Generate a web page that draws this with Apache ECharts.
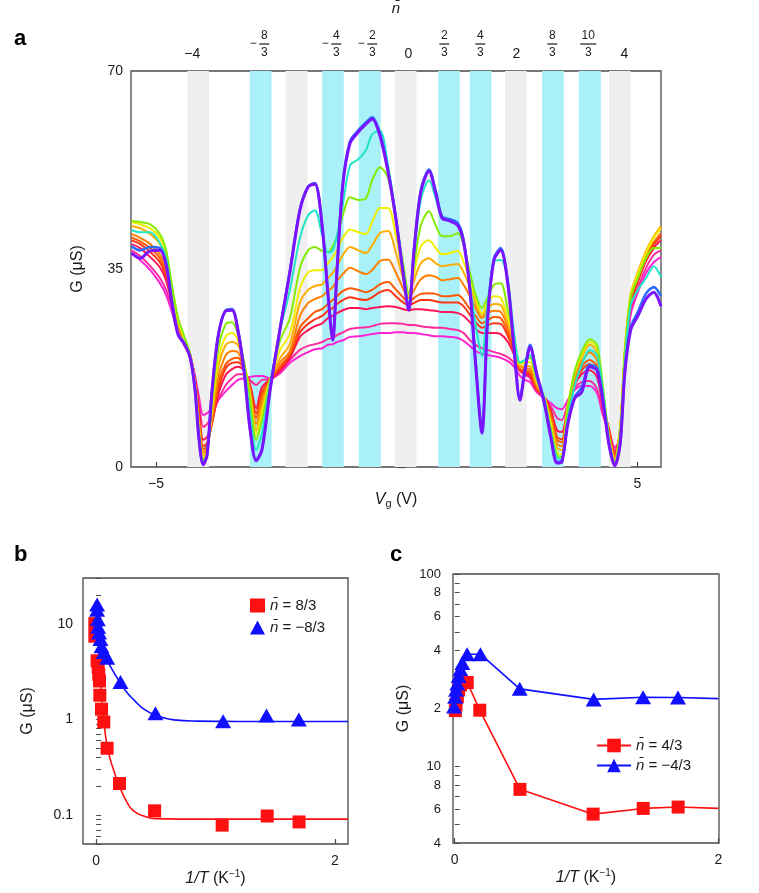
<!DOCTYPE html>
<html><head><meta charset="utf-8">
<script src="https://cdn.jsdelivr.net/npm/echarts@6/dist/echarts.min.js"></script>
<style>html,body{margin:0;padding:0;background:#fff}#c{width:759px;height:893px}</style>
</head><body><div id="c"></div>
<script>
// ---------- Panel a data ----------
const vg = [-5.51,-5.33,-5.12,-4.92,-4.79,-4.67,-4.54,-4.42,-4.29,-4.19,-4.11,-4.02,-3.94,-3.84,-3.71,-3.55,-3.42,-3.30,-3.17,-3.05,-2.92,-2.80,-2.63,-2.42,-2.22,-2.01,-1.84,-1.70,-1.55,-1.43,-1.33,-1.24,-1.12,-0.97,-0.80,-0.64,-0.51,-0.35,-0.18,-0.02,0.13,0.25,0.36,0.50,0.67,0.81,0.94,1.10,1.27,1.39,1.52,1.64,1.77,1.89,2.02,2.16,2.31,2.43,2.56,2.66,2.77,2.91,3.06,3.20,3.33,3.43,3.55,3.70,3.84,4.01,4.16,4.28,4.41,4.53,4.64,4.74,4.86,5.01,5.18,5.34,5.49];
const gMagenta = [37.8,36.6,34.8,32.5,30.4,27.4,23.5,21.6,19.4,16.1,12.5,9.2,9.5,10.4,11.8,13.4,14.5,15.4,15.7,15.9,16.1,16.1,15.7,16.6,18.4,19.6,20.3,20.8,21.0,21.6,21.7,22.1,22.4,23.0,23.1,23.3,23.5,23.7,23.7,23.8,23.8,23.7,23.7,23.5,23.3,23.1,23.1,23.0,22.8,22.3,21.4,20.5,20.0,19.8,19.6,19.3,18.7,17.8,16.1,15.4,15.0,13.2,12.2,11.3,10.4,10.2,11.8,13.6,14.3,14.3,13.1,9.2,6.2,3.5,5.3,18.0,26.9,30.9,34.3,36.2,37.1];
const gPink = [38.3,37.3,35.5,33.4,31.3,28.1,23.8,21.7,19.6,15.7,11.5,7.1,7.6,9.0,11.8,14.5,15.7,16.4,16.4,15.4,14.5,15.4,15.5,16.8,18.9,20.7,21.4,21.7,22.1,22.6,22.8,23.3,23.8,24.4,24.6,24.7,24.9,25.3,25.4,25.4,25.3,25.1,25.1,24.9,24.7,24.6,24.6,24.4,24.2,23.7,22.4,21.6,21.0,20.7,20.3,20.0,19.4,18.5,17.0,16.3,15.7,13.4,12.4,10.8,8.7,8.3,11.1,14.0,15.0,15.2,13.8,9.7,6.5,3.0,5.5,18.5,27.7,31.6,35.2,37.5,38.3];
const gCrimson = [39.4,38.7,37.1,35.3,32.9,29.0,24.2,21.9,19.8,15.4,10.1,4.8,5.3,7.6,12.7,16.3,17.3,17.7,17.0,14.7,10.4,14.1,15.5,17.1,19.3,23.0,24.2,24.9,25.4,26.3,26.7,27.2,27.7,28.1,28.1,27.9,28.1,28.3,28.4,28.3,27.9,27.7,27.9,27.9,27.7,27.6,27.4,27.4,27.2,26.7,25.6,24.4,23.7,23.7,23.7,23.5,22.1,20.0,17.1,16.6,16.1,13.6,12.4,10.1,6.5,6.2,10.4,14.5,16.4,17.1,15.9,11.0,6.7,2.5,5.8,19.3,28.6,32.7,36.4,38.7,40.1];
const gRed = [40.1,39.4,38.0,36.2,33.7,29.5,24.6,22.1,19.8,15.2,9.4,3.7,4.2,7.6,13.6,17.5,18.4,18.5,17.3,14.3,9.5,13.2,15.5,17.5,19.6,23.8,25.3,26.1,26.7,27.6,28.1,28.8,29.5,30.0,29.7,29.5,30.0,30.9,31.3,30.2,29.1,28.6,29.0,29.5,29.5,29.3,29.1,29.1,29.1,28.4,26.9,25.6,24.6,25.1,25.4,25.3,23.1,20.7,17.1,16.8,16.4,13.8,12.4,9.7,5.3,4.9,10.2,15.0,17.1,18.2,17.0,11.5,6.5,2.1,6.2,19.6,29.1,33.0,36.7,39.2,40.8];
const gOrangeRed = [40.6,39.9,38.7,36.9,34.4,29.9,24.7,22.3,19.8,15.0,8.8,3.2,3.7,7.9,14.5,18.2,19.1,19.3,17.5,14.0,8.7,12.7,15.5,17.8,20.0,24.7,26.3,27.4,27.9,28.8,29.5,30.2,31.1,31.6,31.3,30.9,31.3,32.3,32.7,31.4,30.0,29.1,29.9,30.6,30.7,30.6,30.2,30.2,30.4,29.5,27.9,26.7,25.4,26.0,26.5,26.3,23.8,21.0,17.3,17.1,16.8,14.0,12.4,9.2,4.8,4.4,10.4,15.4,17.7,18.9,17.7,11.8,6.2,1.9,6.5,20.0,29.7,33.6,37.3,39.7,41.3];
const gOrange = [41.2,40.5,39.4,37.6,35.2,30.2,25.1,22.4,19.8,14.8,8.3,2.6,3.4,8.3,15.7,19.8,20.5,20.3,17.8,13.6,7.6,11.8,15.5,18.5,20.5,26.7,29.0,29.7,30.2,31.1,31.8,32.9,34.1,35.2,34.6,34.1,34.8,36.4,36.7,34.4,31.6,29.9,31.3,33.2,33.9,33.6,33.0,33.2,33.4,32.2,30.2,28.1,26.3,27.2,27.6,27.4,24.7,21.6,17.7,17.5,17.3,14.3,12.4,8.8,4.1,3.7,10.6,15.7,18.5,20.3,18.9,12.5,5.8,1.6,6.9,20.3,30.2,34.1,37.9,40.6,42.2];
const gAmber = [42.6,42.2,41.2,39.4,36.6,30.9,25.6,22.8,19.8,14.7,7.6,2.1,3.0,9.2,17.5,21.6,22.1,21.6,18.2,13.2,6.5,10.6,15.4,19.3,21.7,29.1,31.3,32.0,32.3,33.4,34.3,35.5,37.5,38.9,38.3,37.8,39.2,41.3,41.7,38.0,33.4,30.4,33.0,36.0,36.9,36.0,35.5,35.7,35.9,34.4,31.8,29.1,26.7,28.1,28.8,28.6,25.6,22.3,17.8,17.8,17.8,14.7,12.4,8.1,3.4,3.0,10.8,16.3,19.3,21.6,20.3,13.2,5.5,1.2,6.9,20.7,30.6,34.5,38.2,40.8,42.6];
const gYellow = [43.3,42.9,42.2,40.5,37.6,31.6,26.0,22.9,19.8,14.5,7.1,1.6,2.6,10.1,18.9,23.1,23.7,22.4,18.4,12.7,5.7,9.5,15.4,20.7,23.5,31.6,34.4,34.8,34.8,36.0,37.1,38.3,40.5,42.0,41.5,41.2,43.3,45.8,45.8,41.0,34.4,30.4,34.4,39.0,40.1,38.7,37.6,37.8,38.2,36.2,33.0,29.9,27.2,29.1,30.2,29.9,26.3,23.0,18.2,18.4,18.5,15.0,12.4,7.6,2.6,2.3,10.4,16.8,19.8,22.1,21.0,13.8,5.1,0.9,6.5,20.7,30.4,34.1,37.8,40.5,42.2];
const gGreen = [43.5,43.3,42.9,41.2,38.3,32.2,26.3,23.3,19.8,14.3,6.5,1.2,2.3,11.0,20.7,25.3,25.6,23.5,18.5,12.2,4.8,8.3,15.2,22.4,26.3,35.2,38.3,38.9,38.2,38.0,39.0,40.8,44.5,47.7,47.2,47.5,50.7,53.0,51.1,43.6,36.2,30.7,35.7,42.7,45.2,42.7,40.8,40.8,41.3,39.2,34.4,30.4,28.1,30.0,32.2,32.5,27.7,23.3,18.4,18.9,19.3,15.4,12.4,6.9,2.1,1.8,10.1,17.1,20.3,22.6,21.6,14.5,5.1,0.7,6.2,20.3,29.9,33.4,36.9,38.7,38.7];
const gTurquoise = [41.9,41.5,41.5,39.6,36.9,29.9,23.7,22.1,19.6,14.0,5.8,0.9,2.1,12.9,23.0,27.6,27.7,24.2,17.5,9.7,3.0,6.0,14.8,24.2,31.3,40.5,44.5,45.4,41.0,37.9,38.3,41.0,46.3,53.3,54.4,56.0,58.8,59.5,53.3,44.5,35.2,29.0,37.5,47.2,50.7,47.5,44.0,43.5,42.7,39.2,32.2,25.1,19.6,29.0,36.2,36.6,33.0,24.2,18.5,18.9,19.8,15.7,12.2,6.2,1.6,1.4,8.3,14.5,18.0,20.7,19.8,13.6,4.8,0.5,4.8,18.5,28.6,31.3,33.4,35.5,33.6];
const gBlue = [39.0,38.3,38.9,38.7,35.9,29.1,23.5,21.9,19.4,13.8,5.3,0.5,2.1,13.2,23.1,27.7,27.9,24.4,17.0,7.1,1.2,3.2,13.8,24.7,34.6,45.6,49.6,50.2,42.7,30.9,22.8,35.2,50.2,57.6,59.5,60.9,61.8,59.0,52.5,44.2,34.6,27.9,38.5,48.9,52.6,48.8,44.3,43.8,43.1,40.1,31.6,18.4,6.5,26.7,36.9,38.7,32.5,21.9,12.2,17.1,21.6,16.6,11.7,5.5,0.9,1.1,7.6,12.5,14.0,18.0,17.5,12.2,4.1,0.4,4.1,17.1,24.7,27.4,30.7,31.8,30.2];
const gPurple = [37.8,36.9,38.2,38.3,35.7,29.0,23.3,21.9,19.3,13.6,5.1,0.4,2.1,13.2,23.1,27.6,27.7,24.2,16.8,6.9,1.1,3.0,13.6,24.6,34.4,45.4,49.5,50.0,42.7,30.7,22.4,34.8,49.8,57.2,59.2,60.6,61.5,58.6,52.1,44.0,34.4,27.7,38.3,48.6,52.3,48.4,44.0,43.5,42.7,39.7,31.3,18.0,6.0,26.3,36.6,38.3,32.2,21.6,11.8,16.8,21.2,16.3,11.5,5.3,0.7,0.9,7.4,12.2,13.2,17.7,17.1,11.8,3.9,0.2,3.9,16.8,24.2,26.7,29.7,30.9,28.4];

// shaded filling bands (Vg ranges)
const grayBands = [[-4.35,-3.90],[-2.31,-1.85],[-0.04,0.41],[2.25,2.70],[4.41,4.86]];
const cyanBands = [[-3.05,-2.60],[-1.55,-1.10],[-0.79,-0.33],[0.86,1.31],[1.52,1.97],[3.02,3.47],[3.78,4.24]];

// top axis (n-bar) ticks and labels
const nbarTicks = [-4,-8/3,-4/3,-2/3,0,2/3,4/3,2,8/3,10/3,4];
const nbarLabels = ['−4','−8/3','−4/3','−2/3','0','2/3','4/3','2','8/3','10/3','4'];
const vgTicks = [-5,5];
const gTicks = [0,35,70];

// ---------- Panel b data ----------
const bRedX = [-0.011,-0.011,0.008,0.017,0.022,0.028,0.031,0.045,0.064,0.092,0.196,0.49,1.056,1.433,1.70];
const bRedY = [10.0,7.4,4.1,3.5,2.96,2.52,1.79,1.28,0.94,0.50,0.214,0.111,0.0787,0.098,0.085];
const bBlueX = [0.008,0.008,0.014,0.017,0.025,0.036,0.045,0.064,0.092,0.204,0.497,1.064,1.427,1.698];
const bBlueY = [15.9,14.0,11.1,9.3,8.1,6.9,5.8,5.06,4.4,2.46,1.16,0.96,1.10,1.0];
const bRedFitX = [0.0,0.008,0.036,0.064,0.092,0.134,0.196,0.26,0.316,0.4,0.5,0.7,1.0,1.5,2.11];
const bRedFitY = [10.5,9.8,2.6,1.0,0.53,0.33,0.2,0.135,0.11,0.098,0.092,0.091,0.091,0.091,0.091];
const bBlueFitX = [0.008,0.036,0.064,0.092,0.148,0.204,0.26,0.316,0.4,0.51,0.65,0.85,1.2,2.11];
const bBlueFitY = [11,7.4,5.4,4.2,3.1,2.4,1.9,1.6,1.28,1.09,0.99,0.96,0.95,0.95];
const bYTicks = [0.05,0.06,0.07,0.08,0.09,0.1,0.2,0.3,0.4,0.5,0.6,0.7,0.8,0.9,1,2,3,4,5,6,7,8,9,10,20,30];
const bYLabels = [0.1,1,10];
const tXTicks = [0,2];

// ---------- Panel c data ----------
const cRedX = [0.005,0.01,0.02,0.03,0.045,0.095,0.19,0.495,1.05,1.43,1.695];
const cRedY = [19.5,21,23,25,26.5,27.3,19.6,7.6,5.65,6.05,6.15];
const cRedEnd = [2.0,6.05];
const cBlueX = [-0.005,0.003,0.01,0.02,0.03,0.043,0.058,0.094,0.195,0.493,1.054,1.429,1.694];
const cBlueY = [20.5,23,25,27,29.5,32,34.5,38.3,38.3,25.3,22.3,22.9,22.8];
const cBlueEnd = [2.0,22.5];
const cYTicks = [4,5,6,7,8,9,10,20,30,40,50,60,70,80,90,100];
const cYLabels = [4,6,8,10,20,40,60,80,100];

// ---------- styles ----------
const curves = [
  {d:gMagenta,c:'#ff22d4',w:2},{d:gPink,c:'#ff2a9e',w:2},{d:gCrimson,c:'#ff1256',w:2},
  {d:gRed,c:'#ff3414',w:2},{d:gOrangeRed,c:'#ff5800',w:2},{d:gOrange,c:'#ff8000',w:2},
  {d:gAmber,c:'#ffad00',w:2},{d:gYellow,c:'#f2ee00',w:2},{d:gGreen,c:'#84ec00',w:2},
  {d:gTurquoise,c:'#1fe6c6',w:2},{d:gBlue,c:'#2a6cff',w:2.6},{d:gPurple,c:'#7a14ff',w:3}
];
const FONT = 'Liberation Sans, Arial, sans-serif';
const TXT = '#1a1a1a';
const FRAME = '#4a4a4a';

function pair(xs, ys){ return xs.map((x,i)=>[x, ys[i]]); }
function nbarFmt(v){
  let best=0; for(let i=1;i<nbarTicks.length;i++){ if(Math.abs(nbarTicks[i]-v)<Math.abs(nbarTicks[best]-v)) best=i; }
  const s = nbarLabels[best];
  if (s.indexOf('/')<0) return '{int|'+s+'}';
  const neg = s[0]==='−'; const t = neg? s.slice(1): s;
  const parts = t.split('/'); const w = parts[0].length>1?'2':'1';
  const nt='{n'+w+'|'+parts[0]+'}', dt='{n'+w+'|'+parts[1]+'}', bt='{b'+w+'|}';
  if (neg) return '{sp|}'+nt+'{sp|}\n{m|−}'+bt+'{sp|}\n{sp|}'+dt+'{sp|}\n{gap|}';
  return nt+'\n'+bt+'\n'+dt+'\n{gap|}';
}
const nameG = {fontFamily:FONT,fontSize:16,color:TXT};
const xNameT = {
  rich:{it:{fontStyle:'italic',fontSize:16,fontFamily:FONT,color:TXT},n:{fontSize:16,fontFamily:FONT,color:TXT},
        sup:{fontSize:10,fontFamily:FONT,color:TXT,verticalAlign:'top',lineHeight:20}}
};

const series = [];
// band holder
series.push({type:'line',xAxisIndex:0,yAxisIndex:0,data:[],silent:true,
  markArea:{silent:true,data:
    grayBands.map(b=>[{xAxis:b[0],itemStyle:{color:'#efefef'}},{xAxis:b[1]}]).concat(
    cyanBands.map(b=>[{xAxis:b[0],itemStyle:{color:'#aaf0f8'}},{xAxis:b[1]}]))}});
curves.forEach((cv,i)=>{
  series.push({type:'line',xAxisIndex:0,yAxisIndex:0,name:'curve'+i,data:pair(vg,cv.d),
    showSymbol:false,symbol:'none',smooth:0.3,silent:true,z:2+i*0.01,
    lineStyle:{color:cv.c,width:cv.w}});
});
// panel b
series.push({type:'line',name:'fitR',xAxisIndex:2,yAxisIndex:1,data:pair(bRedFitX,bRedFitY),showSymbol:false,symbol:'none',smooth:0.5,lineStyle:{color:'#ff1010',width:1.6},z:3});
series.push({type:'line',name:'fitB',xAxisIndex:2,yAxisIndex:1,data:pair(bBlueFitX,bBlueFitY),showSymbol:false,symbol:'none',smooth:0.5,lineStyle:{color:'#1010ff',width:1.6},z:3});
series.push({type:'scatter',name:'n̄ = 8/3',xAxisIndex:2,yAxisIndex:1,data:pair(bRedX,bRedY),symbol:'rect',symbolSize:13,itemStyle:{color:'#ff1010',opacity:1},z:4});
series.push({type:'scatter',name:'n̄ = −8/3',xAxisIndex:2,yAxisIndex:1,data:pair(bBlueX,bBlueY),symbol:'triangle',symbolSize:[16,14],itemStyle:{color:'#1010ff',opacity:1},z:5});
// panel c
series.push({type:'line',name:'n̄ = 4/3',xAxisIndex:3,yAxisIndex:2,
  data:pair(cRedX,cRedY).concat([{value:cRedEnd,symbol:'none'}]),symbol:'rect',symbolSize:13,showSymbol:true,
  lineStyle:{color:'#ff1010',width:1.6},itemStyle:{color:'#ff1010'},z:4});
series.push({type:'line',name:'n̄ = −4/3',xAxisIndex:3,yAxisIndex:2,
  data:pair(cBlueX,cBlueY).concat([{value:cBlueEnd,symbol:'none'}]),symbol:'triangle',symbolSize:[16,14],showSymbol:true,
  lineStyle:{color:'#1010ff',width:1.6},itemStyle:{color:'#1010ff'},z:5});

const legendText = {fontFamily:FONT,fontSize:15,color:TXT,
  rich:{i:{fontStyle:'italic',fontSize:15,fontFamily:FONT,color:TXT},t:{fontSize:15,fontFamily:FONT,color:TXT}}};
function legFmt(name){ return '{i|n\u0304}{t|'+name.slice(2)+'}'; }

const option = {
  animation:false,
  backgroundColor:'#fff',
  textStyle:{fontFamily:FONT},
  graphic:[
    {type:'text',left:14,top:28,style:{text:'a',font:'bold 22px '+FONT,fill:'#000'}},
    {type:'text',left:14,top:544,style:{text:'b',font:'bold 22px '+FONT,fill:'#000'}},
    {type:'text',left:390,top:544,style:{text:'c',font:'bold 22px '+FONT,fill:'#000'}}
  ],
  grid:[
    {left:131,right:98,top:71,bottom:426,show:true,borderColor:FRAME,borderWidth:1.3,backgroundColor:'transparent'},
    {left:83,right:411,top:578,bottom:49,show:true,borderColor:FRAME,borderWidth:1.3,backgroundColor:'transparent'},
    {left:453,right:40,top:574,bottom:50,show:true,borderColor:FRAME,borderWidth:1.3,backgroundColor:'transparent'}
  ],
  legend:[
    {data:['n̄ = 8/3','n̄ = −8/3'],left:245,top:593,orient:'vertical',itemGap:7,itemWidth:15,itemHeight:14,
     selectedMode:false,formatter:legFmt,textStyle:legendText},
    {data:['n̄ = 4/3','n̄ = −4/3'],left:591,top:733,orient:'vertical',itemGap:5,itemWidth:34,itemHeight:17,
     selectedMode:false,formatter:legFmt,textStyle:legendText}
  ],
  xAxis:[
    {gridIndex:0,type:'value',position:'bottom',min:-5.52,max:5.49,
     name:'{it|V}{sub|g}{n| (V)}',nameLocation:'middle',nameGap:22,
     nameTextStyle:{rich:{it:{fontStyle:'italic',fontSize:16,fontFamily:FONT,color:TXT,lineHeight:20},
        sub:{fontSize:11,fontFamily:FONT,color:TXT,verticalAlign:'bottom',lineHeight:20,padding:[6,0,0,0]},
        n:{fontSize:16,fontFamily:FONT,color:TXT,lineHeight:20}}},
     axisLine:{show:false},splitLine:{show:false},
     axisTick:{inside:true,length:5,customValues:vgTicks,lineStyle:{color:FRAME,width:1.2}},
     axisLabel:{customValues:vgTicks,margin:10,fontSize:14,color:TXT,fontFamily:FONT,formatter:v=>String(v).replace('-','−')}},
    {gridIndex:0,type:'value',position:'top',min:-5.135,max:4.68,
     name:'n\u0304',nameLocation:'middle',nameGap:55,nameTextStyle:{fontStyle:'italic',fontSize:15,fontFamily:FONT,color:TXT},
     axisLine:{show:false},splitLine:{show:false},
     axisTick:{inside:true,length:5,customValues:nbarTicks,lineStyle:{color:FRAME,width:1.2}},
     axisLabel:{customValues:nbarTicks,margin:9,formatter:nbarFmt,hideOverlap:false,
       rich:{
         int:{fontSize:14,fontFamily:FONT,color:TXT,lineHeight:16},
         n1:{fontSize:12,fontFamily:FONT,color:TXT,width:10,align:'center',lineHeight:11},
         n2:{fontSize:12,fontFamily:FONT,color:TXT,width:16,align:'center',lineHeight:11},
         b1:{width:10,height:1.2,backgroundColor:TXT,lineHeight:6,align:'center'},
         b2:{width:16,height:1.2,backgroundColor:TXT,lineHeight:6,align:'center'},
         sp:{width:12,lineHeight:6,align:'center'},
         m:{fontSize:12,fontFamily:FONT,color:TXT,width:12,align:'center',lineHeight:6},
         gap:{lineHeight:4,width:1}
       }}},
    {gridIndex:1,type:'value',min:-0.11,max:2.11,
     name:'{it|1/T}{n| (K}{sup|−1}{n|)}',nameLocation:'middle',nameGap:14,nameTextStyle:xNameT,
     axisLine:{show:false},splitLine:{show:false},
     axisTick:{inside:true,length:5,customValues:tXTicks,lineStyle:{color:FRAME,width:1.2}},
     axisLabel:{customValues:tXTicks,margin:10,fontSize:14,color:TXT,fontFamily:FONT}},
    {gridIndex:2,type:'value',min:-0.013,max:2.005,
     name:'{it|1/T}{n| (K}{sup|−1}{n|)}',nameLocation:'middle',nameGap:15,nameTextStyle:xNameT,
     axisLine:{show:false},splitLine:{show:false},
     axisTick:{inside:true,length:5,customValues:tXTicks,lineStyle:{color:FRAME,width:1.2}},
     axisLabel:{customValues:tXTicks,margin:10,fontSize:14,color:TXT,fontFamily:FONT}}
  ],
  yAxis:[
    {gridIndex:0,type:'value',min:0,max:70,interval:35,
     name:'G (μS)',nameLocation:'middle',nameGap:45,nameTextStyle:nameG,
     axisLine:{show:false},splitLine:{show:false},
     axisTick:{inside:true,length:9,customValues:gTicks,lineStyle:{color:FRAME,width:1.2}},
     axisLabel:{customValues:gTicks,margin:8,fontSize:14,color:TXT,fontFamily:FONT}},
    {gridIndex:1,type:'log',min:0.05,max:30,
     name:'G (μS)',nameLocation:'middle',nameGap:47,nameTextStyle:nameG,
     axisLine:{show:false},splitLine:{show:false},minorTick:{show:false},
     axisTick:{inside:true,length:5,customValues:bYTicks,lineStyle:{color:FRAME,width:1}},
     axisLabel:{customValues:bYLabels,margin:10,fontSize:14,color:TXT,fontFamily:FONT,
       formatter:v=>String(Math.round(v*1000)/1000)}},
    {gridIndex:2,type:'log',min:4,max:100,
     name:'G (μS)',nameLocation:'middle',nameGap:41,nameTextStyle:nameG,
     axisLine:{show:false},splitLine:{show:false},minorTick:{show:false},
     axisTick:{inside:true,length:5,customValues:cYTicks,lineStyle:{color:FRAME,width:1}},
     axisLabel:{customValues:cYLabels,margin:12,fontSize:13,color:TXT,fontFamily:FONT,
       formatter:v=>{const r=Math.round(v); return String((r>=20&&r<100)? r/10 : r);}}}
  ],
  series:series
};
const chart = echarts.init(document.getElementById('c'),null,{renderer:'canvas'});
chart.setOption(option);
</script>
</body></html>
